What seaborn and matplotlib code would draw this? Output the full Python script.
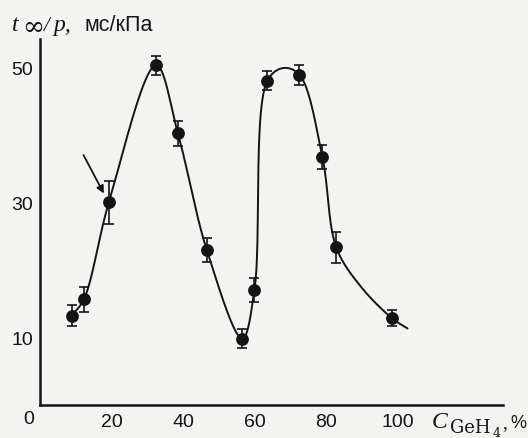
import numpy as np
import pandas as pd
import matplotlib
matplotlib.use("Agg")
import matplotlib.pyplot as plt
import seaborn as sns

# ---- data ----
conc = [8.8, 12.2, 19.2, 32.4, 38.5, 46.6, 56.5, 59.9, 63.5, 72.5, 78.9, 82.8, 98.4]
ratio = [13.2, 15.6, 30.0, 50.3, 40.2, 22.9, 9.8, 17.0, 48.0, 48.9, 36.7, 23.3, 12.8]
err = [1.6, 1.9, 3.2, 1.4, 1.8, 1.8, 1.4, 1.8, 1.4, 1.5, 1.8, 2.3, 1.2]

# points of the drawn smooth curve
curve_x = [8.8, 12.2, 19.2, 32.4, 38.5, 46.6, 56.5, 59.9, 63.5, 68.0, 72.5, 78.9, 82.8, 89.5, 98.4, 102.7]
curve_y = [13.2, 15.6, 30.0, 50.3, 40.2, 22.9, 9.8, 17.0, 48.0, 49.9, 48.9, 36.7, 23.3, 17.6, 12.8, 11.3]

xticks = [20, 40, 60, 80, 100]
yticks = [10, 20, 30, 40, 50]
ytick_labels = ["10", "", "30", "", "50"]

arrow_start = (12.1, 37.0)
arrow_end = (17.8, 31.3)

# pixel scale of the axes (for a centripetal spline in display-like space)
SX, SY = 3.575, 6.75


def centripetal_cr(xs, ys, n=40, alpha=0.5):
    P = np.column_stack([np.asarray(xs) * SX, np.asarray(ys) * SY]).astype(float)
    P = np.vstack([2 * P[0] - P[1], P, 2 * P[-1] - P[-2]])
    out = []
    for i in range(1, len(P) - 2):
        p0, p1, p2, p3 = P[i - 1], P[i], P[i + 1], P[i + 2]
        t0 = 0.0
        t1 = t0 + np.linalg.norm(p1 - p0) ** alpha
        t2 = t1 + np.linalg.norm(p2 - p1) ** alpha
        t3 = t2 + np.linalg.norm(p3 - p2) ** alpha
        t = np.linspace(t1, t2, n, endpoint=False)[:, None]
        A1 = (t1 - t) / (t1 - t0) * p0 + (t - t0) / (t1 - t0) * p1
        A2 = (t2 - t) / (t2 - t1) * p1 + (t - t1) / (t2 - t1) * p2
        A3 = (t3 - t) / (t3 - t2) * p2 + (t - t2) / (t3 - t2) * p3
        B1 = (t2 - t) / (t2 - t0) * A1 + (t - t0) / (t2 - t0) * A2
        B2 = (t3 - t) / (t3 - t1) * A2 + (t - t1) / (t3 - t1) * A3
        C = (t2 - t) / (t2 - t1) * B1 + (t - t1) / (t2 - t1) * B2
        out.append(C)
    out.append(P[-2][None, :])
    R = np.vstack(out)
    return R[:, 0] / SX, R[:, 1] / SY


sns.set_style("white")
plt.rcParams["font.family"] = ["Liberation Sans", "DejaVu Sans"]

bg = "#f3f3f1"
ink = "#141414"
W, H = 528, 439

fig = plt.figure(figsize=(5.28, 4.39), dpi=100, facecolor=bg)
ax = fig.add_axes([40.2 / W, 1 - 405.7 / H, (503 - 40.2) / W, (405.7 - 40) / H])
ax.set_facecolor(bg)

sx, sy = centripetal_cr(curve_x, curve_y)
curve_df = pd.DataFrame({"x": sx, "y": sy})
sns.lineplot(data=curve_df, x="x", y="y", sort=False, estimator=None,
             color=ink, linewidth=1.4, ax=ax)

pts = pd.DataFrame({"x": conc, "y": ratio, "e": err})
ax.errorbar(pts["x"], pts["y"], yerr=pts["e"], fmt="none", ecolor=ink,
            elinewidth=1.2, capsize=3.5, capthick=1.2, zorder=3)
sns.scatterplot(data=pts, x="x", y="y", s=85, color=ink, edgecolor=ink,
                linewidth=0, ax=ax, zorder=4)

ax.annotate("", xy=arrow_end, xytext=arrow_start,
            arrowprops=dict(arrowstyle="-|>", color=ink, lw=1.3,
                            mutation_scale=11, shrinkA=0, shrinkB=0))

ax.set_xlim(0, 129.4)
ax.set_ylim(0, 54.2)
ax.set_xticks(xticks)
ax.set_xticklabels([str(v) for v in xticks])
ax.set_yticks(yticks)
ax.set_yticklabels(ytick_labels)
ax.tick_params(direction="in", length=5, width=1.2, colors=ink, labelsize=14, pad=5)
ax.tick_params(axis="x", pad=6)
for s in ["top", "right"]:
    ax.spines[s].set_visible(False)
for s in ["left", "bottom"]:
    ax.spines[s].set_color(ink)
    ax.spines[s].set_linewidth(1.8)
ax.set_xlabel("")
ax.set_ylabel("")


def ftext(px, py, s, ha="left", **kw):
    fig.text(px / W, 1 - py / H, s, color=ink, va="baseline", ha=ha, **kw)


serif = ["Liberation Serif", "DejaVu Serif"]
dserif = ["DejaVu Serif", "Liberation Serif"]

ftext(29, 424, "0", fontsize=14, ha="center")

# x-axis label: C_GeH4, %
ftext(432, 428, "C", fontsize=17, family=serif, style="italic")
ftext(450, 433, "GeH", fontsize=13, family=dserif)
ftext(493, 437, "4", fontsize=9, family=dserif)
ftext(502, 428, ",", fontsize=14, family=serif)
ftext(510, 428, "%", fontsize=13)

# y-axis label: t_inf / p, мс/кПа
ftext(12, 31, "t", fontsize=17, family=serif, style="italic")
ftext(22, 35, "\u221e", fontsize=19, family=dserif)
ftext(44, 31, "/", fontsize=15, family=serif, style="italic")
ftext(53, 31, "p,", fontsize=17, family=serif, style="italic")
ftext(84, 31, "мс/кПа", fontsize=15.5)

fig.savefig("out.png", dpi=100, facecolor=bg)
